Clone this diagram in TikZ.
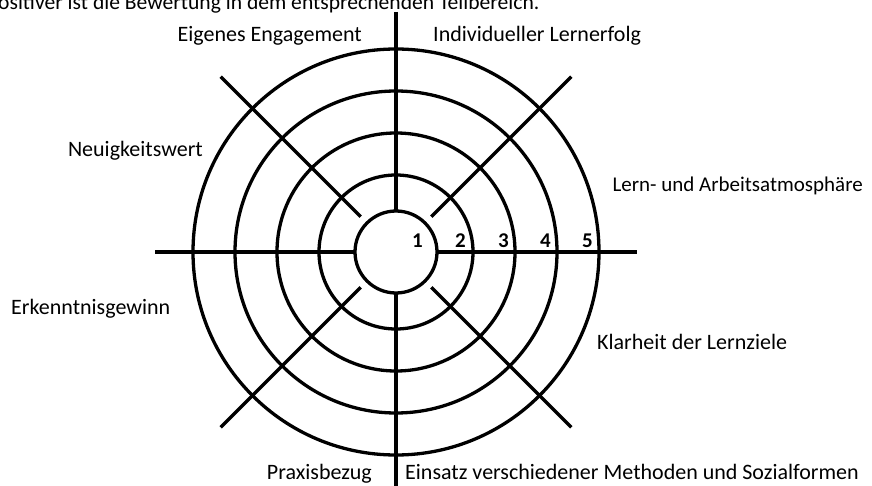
\documentclass[tikz,border=0pt]{standalone}
\usepackage{fontspec}
\setmainfont{Carlito}
\begin{document}
\begin{tikzpicture}[x=1pt,y=-1pt,
  ring/.style={draw=black,line width=3.3pt},
  spoke/.style={draw=black,line width=3.3pt},
  lbl/.style={inner sep=0pt,font=\fontsize{22}{26}\selectfont},
  toptext/.style={inner sep=0pt,font=\fontsize{21.6}{25}\selectfont},
  num/.style={inner sep=0pt,font=\fontsize{21}{23}\selectfont\bfseries}]
\useasboundingbox (0,0) rectangle (872,486);
\coordinate (c) at (396,252);
\coordinate (vtop) at (396,12);
\coordinate (vbot) at (396,486);
\coordinate (hl) at (155,252);
\coordinate (hr) at (637,252);
% spokes
\draw[spoke] (vtop) -- (vbot);
\draw[spoke] (hl) -- (hr);
\foreach \a in {45,135,225,315}
  \draw[spoke] (c) ++(\a:50) -- ++(\a:198);
% rings
\foreach \r in {77,119,161,203}
  \draw[ring] (c) circle[radius=\r];
\draw[ring,fill=white] (c) circle[radius=41];
% numbers
\node[num,anchor=base east] (n1) at (423,247.5) {1};
\node[num,anchor=base east] (n2) at (466,247.5) {2};
\node[num,anchor=base east] (n3) at (509,247.5) {3};
\node[num,anchor=base east] (n4) at (551,247.5) {4};
\node[num,anchor=base east] (n5) at (593,247.5) {5};
% labels
\node[toptext,anchor=base west] (title) at (-2,10) {ositiver ist die Bewertung in dem entsprechenden Teilbereich.};
\node[lbl,anchor=base east] (eng) at (362,42) {Eigenes Engagement};
\node[lbl,anchor=base west] (ind) at (433,42) {Individueller Lernerfolg};
\node[lbl,anchor=base east] (neu) at (203,157) {Neuigkeitswert};
\node[lbl,anchor=base east,font=\fontsize{21}{25}\selectfont] (lern) at (863,192) {Lern- und Arbeitsatmosphäre};
\node[lbl,anchor=base west] (erk) at (11,314) {Erkenntnisgewinn};
\node[lbl,anchor=base west] (klar) at (597,349) {Klarheit der Lernziele};
\node[lbl,anchor=base east] (prax) at (372,479) {Praxisbezug};
\node[lbl,anchor=base west] (eins) at (405,479) {Einsatz verschiedener Methoden und Sozialformen};
\end{tikzpicture}
\end{document}
